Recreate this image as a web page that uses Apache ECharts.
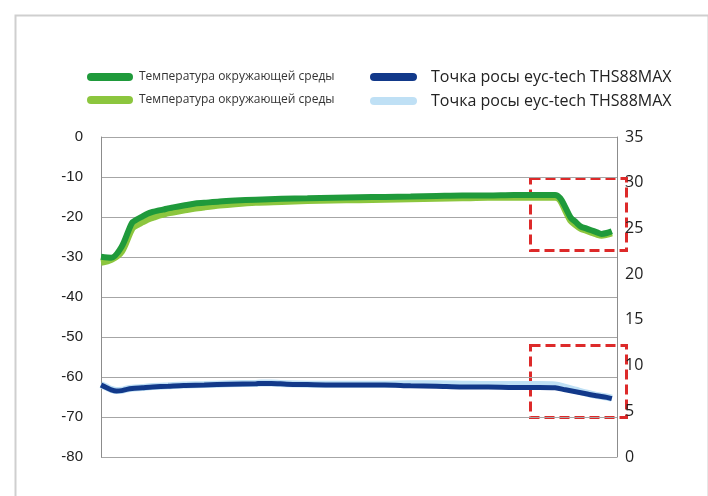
<!DOCTYPE html>
<html>
<head>
<meta charset="utf-8">
<script src="https://cdn.jsdelivr.net/npm/echarts@6/dist/echarts.min.js"></script>
<style>
  html, body { margin: 0; padding: 0; background: #fff; }
  #chart { width: 708px; height: 496px; }
</style>
</head>
<body>
<div id="chart"></div>
<script>
// time positions (0..100 along the plot width)
var tGreen = [0, 2, 4, 6, 7, 8, 9, 10, 11, 12, 13, 14, 16, 18, 20, 23, 26, 30, 35, 40, 45, 50, 55, 60, 65, 70, 75, 80, 85, 88, 89, 90, 91, 92, 93, 94, 95, 96, 97, 98, 99]
var tempDark = [21.9, 21.8, 23.0, 25.6, 26.0, 26.3, 26.6, 26.8, 26.95, 27.05, 27.2, 27.3, 27.5, 27.7, 27.8, 27.95, 28.05, 28.15, 28.25, 28.3, 28.35, 28.4, 28.45, 28.5, 28.55, 28.6, 28.6, 28.65, 28.65, 28.65, 28.3, 27.3, 26.2, 25.7, 25.2, 25.0, 24.8, 24.6, 24.4, 24.5, 24.7]
var tempLight = [21.3, 21.6, 22.5, 25.0, 25.4, 25.7, 26.0, 26.2, 26.4, 26.55, 26.7, 26.8, 27.0, 27.2, 27.35, 27.55, 27.7, 27.85, 27.95, 28.05, 28.1, 28.15, 28.2, 28.25, 28.3, 28.35, 28.4, 28.4, 28.4, 28.4, 28.1, 27.0, 25.9, 25.4, 25.0, 24.8, 24.6, 24.4, 24.25, 24.35, 24.5]

var tBlue = [0, 1, 2, 3, 4, 5, 6, 8, 10, 13, 16, 20, 25, 30, 31, 33, 36, 40, 45, 50, 55, 60, 65, 70, 75, 80, 85, 88, 90, 92, 94, 96, 98, 99]
var dewDark = [-62.0, -62.6, -63.2, -63.5, -63.4, -63.1, -62.9, -62.7, -62.5, -62.3, -62.1, -62.0, -61.8, -61.7, -61.6, -61.6, -61.8, -61.9, -62.0, -62.0, -62.0, -62.2, -62.3, -62.5, -62.5, -62.6, -62.6, -62.7, -63.2, -63.7, -64.2, -64.7, -65.1, -65.4]
var dewLight = [-61.9, -62.5, -63.1, -63.4, -63.3, -63.0, -62.8, -62.6, -62.4, -62.2, -62.0, -61.9, -61.7, -61.6, -61.5, -61.5, -61.7, -61.8, -61.8, -61.8, -61.8, -61.7, -61.7, -61.8, -61.9, -61.9, -61.9, -62.0, -62.6, -63.3, -64.0, -64.6, -65.0, -65.3]

var labelTemp = 'Температура окружающей среды'
var labelDew = 'Точка росы eyc-tech THS88MAX'
var names = { tempDark: labelTemp, tempLight: labelTemp, dewDark: labelDew, dewLight: labelDew }

function pairs(xs, ys) {
  return xs.map(function (x, i) { return [x, ys[i]] })
}

var pill = 'path://M4,0 H42 A4,4 0 0 1 42,8 H4 A4,4 0 0 1 4,0 Z'

var chart = echarts.init(document.getElementById('chart'))
var option = {
  backgroundColor: '#fff',
  animation: false,
  grid: { left: 101, right: 91, top: 137, bottom: 39 },
  legend: [
    {
      data: ['tempDark', 'tempLight'],
      orient: 'vertical',
      left: 82, top: 65,
      icon: pill,
      itemWidth: 46, itemHeight: 9,
      itemGap: 9,
      formatter: function (n) { return names[n] },
      textStyle: { fontFamily: 'Open Sans', fontSize: 12, color: '#333', lineHeight: 14, padding: [0, 0, 0, 1] }
    },
    {
      data: ['dewDark', 'dewLight'],
      orient: 'vertical',
      left: 365, top: 62,
      icon: pill,
      itemWidth: 47, itemHeight: 9,
      itemGap: 4,
      formatter: function (n) { return names[n] },
      textStyle: { fontFamily: 'Open Sans', fontSize: 16, color: '#222', lineHeight: 20, padding: [0, 0, 0, 9] }
    }
  ],
  xAxis: { type: 'value', min: 0, max: 100, show: false },
  yAxis: [
    {
      type: 'value', min: -80, max: 0, interval: 10,
      axisLine: { show: true, lineStyle: { color: '#8c8c8c', width: 1 } },
      axisTick: { show: false },
      splitLine: { lineStyle: { color: '#a6a6a6', width: 1 } },
      axisLabel: { margin: 18, fontFamily: 'Liberation Sans', fontSize: 15, color: '#222' }
    },
    {
      type: 'value', min: 0, max: 35, interval: 5,
      position: 'right',
      axisLine: { show: true, lineStyle: { color: '#8c8c8c', width: 1 } },
      axisTick: { show: false },
      splitLine: { show: false },
      axisLabel: { margin: 8, fontFamily: 'Open Sans', fontSize: 16, color: '#222' }
    }
  ],
  series: [
    {
      name: 'dewLight', type: 'line', yAxisIndex: 0, showSymbol: false, smooth: 0.3,
      color: '#bfe0f5', lineStyle: { width: 7, color: '#bfe0f5' },
      data: pairs(tBlue, dewLight)
    },
    {
      name: 'dewDark', type: 'line', yAxisIndex: 0, showSymbol: false, smooth: 0.3,
      color: '#12398a', lineStyle: { width: 5, color: '#12398a' },
      data: pairs(tBlue, dewDark)
    },
    {
      name: 'tempLight', type: 'line', yAxisIndex: 1, showSymbol: false, smooth: 0.3,
      color: '#8cc63e', lineStyle: { width: 7, color: '#8cc63e' },
      data: pairs(tGreen, tempLight)
    },
    {
      name: 'tempDark', type: 'line', yAxisIndex: 1, showSymbol: false, smooth: 0.3,
      color: '#1f9a3b', lineStyle: { width: 6, color: '#1f9a3b' },
      data: pairs(tGreen, tempDark)
    }
  ],
  graphic: [
    {
      type: 'rect', left: 13, top: 13, z: -1, silent: true,
      shape: { width: 693, height: 500 },
      style: { fill: 'none', stroke: '#cfcfcf', lineWidth: 2 }
    },
    {
      type: 'rect', left: 528, top: 176, silent: true,
      shape: { width: 96, height: 72 },
      style: { fill: 'none', stroke: '#dd2a2a', lineWidth: 3, lineDash: [10, 5] }
    },
    {
      type: 'rect', left: 528, top: 343, silent: true,
      shape: { width: 96, height: 72 },
      style: { fill: 'none', stroke: '#dd2a2a', lineWidth: 3, lineDash: [10, 5] }
    }
  ]
}
chart.setOption(option)
</script>
</body>
</html>
